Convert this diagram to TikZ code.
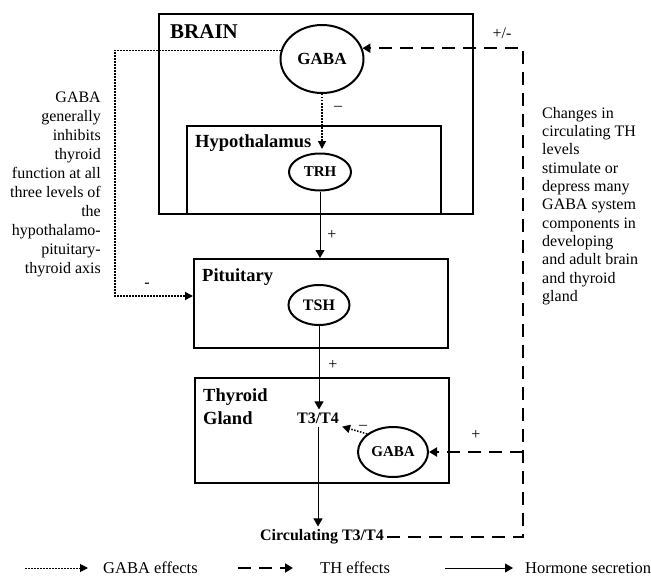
\documentclass[tikz,border=0pt]{standalone}
\usepackage{fontspec}
\setmainfont{Liberation Serif}
\usetikzlibrary{arrows.meta,shapes.geometric}

\begin{document}
\begin{tikzpicture}[x=1pt,y=-1pt,
  organ/.style={draw,line width=2.2pt,anchor=north west,inner sep=0pt},
  gland/.style={draw,ellipse,line width=2pt,inner sep=0pt,font=\bfseries\fontsize{15}{18}\selectfont},
  lbl/.style={font=\bfseries\fontsize{18.5}{23}\selectfont,inner sep=0pt},
  note/.style={font=\fontsize{16}{19}\selectfont,inner sep=0pt},
  sign/.style={font=\fontsize{16}{19}\selectfont,inner sep=0pt},
  gabafx/.style={line width=1.5pt,dash pattern=on 1.5pt off 1.5pt,-{Triangle[length=8pt,width=8pt]}},
  thfx/.style={line width=2.5pt,dash pattern=on 13pt off 8pt,-{Triangle[length=8pt,width=9pt]}},
  hormone/.style={line width=1pt,-{Triangle[length=8pt,width=9pt]}}]%
\useasboundingbox (0,0) rectangle (651,578);%
%
% boxes
\node[organ,minimum width=314pt,minimum height=200pt] (brain) at (158,13) {};%
\node[organ,minimum width=254pt,minimum height=88pt] (hypo) at (186,125) {};%
\node[organ,minimum width=254pt,minimum height=89pt] (pit) at (193,258) {};%
\node[organ,minimum width=254pt,minimum height=105pt] (thy) at (194,377) {};%
\node[lbl,font=\bfseries\fontsize{21}{25}\selectfont,anchor=west] (brainlbl) at (170,32) {BRAIN};%
\node[lbl,anchor=west] (hypolbl) at (195,143) {Hypothalamus};%
\node[lbl,anchor=west] (pitlbl) at (202,277) {Pituitary};%
\node[lbl,anchor=north west,align=left] (thylbl) at (203,388) {Thyroid\\Gland};%
%
% hormones and GABA
\node[gland,minimum width=83pt,minimum height=68pt,font=\bfseries\fontsize{17}{20}\selectfont] (gabab) at (322,59) {GABA};%
\node[gland,minimum width=62pt,minimum height=37pt] (trh) at (320,172) {TRH};%
\node[gland,minimum width=61pt,minimum height=40pt,font=\bfseries\fontsize{16}{19}\selectfont] (tsh) at (319,305) {TSH};%
\node[gland,minimum width=70pt,minimum height=50pt] (gabat) at (393,452) {GABA};%
\node[lbl,font=\bfseries\fontsize{16}{19}\selectfont,inner sep=3pt] (t3t4) at (318,418) {T3/T4};%
\node[lbl,font=\bfseries\fontsize{16}{19}\selectfont,inner sep=3pt] (circ) at (322,537) {Circulating T3/T4};%
%
% secretion
\draw[hormone] (trh.south) -- (trh.south |- pit.north);%
\node[sign] (plustrh) at (332,235) {+};%
\draw[hormone] (tsh.south) -- (tsh.south |- t3t4.north);%
\node[sign] (plustsh) at (333,365) {+};%
\draw[hormone] (t3t4.south) -- (t3t4.south |- circ.north);%
%
% GABA effects
\coordinate (hypotip) at (321,149);%
\draw[gabafx] (gabab.south) -- (gabab.south |- hypotip);%
\node[sign] (minushypo) at (338,108) {--};%
\coordinate (gabaturn) at (115,296);%
\draw[gabafx] (gabab.168) -| (gabaturn) -- (gabaturn -| pit.west);%
\node[sign] (minuspit) at (147,285) {-};%
\draw[gabafx] (gabat.145) -- (t3t4.south east);%
\node[sign] (minusthy) at (363,427) {--};%
%
% TH effects
\coordinate (thturn) at (523,537);%
\draw[thfx] (circ.east) -- (thturn) -- (thturn |- gabab.15) -- (gabab.15);%
\node[sign] (plusminus) at (502,33) {+/-};%
\draw[thfx] (thturn |- gabat.east) -- (gabat.east);%
\node[sign] (plusthy) at (476,435) {+};%
%
% notes
\node[note,align=right,anchor=east] (gabanote) at (101,184) {GABA\\generally\\inhibits\\thyroid\\function at all\\three levels of\\the\\hypothalamo-\\pituitary-\\thyroid axis};%
\node[note,font=\fontsize{16}{18.3}\selectfont,align=left,anchor=west] (thnote) at (542,206) {Changes in\\circulating TH\\levels\\stimulate or\\depress many\\GABA system\\components in\\developing\\and adult brain\\and thyroid\\gland};%
%
% legend
\def\legendy{568};%
\coordinate (lgabaa) at (25,\legendy);%
\coordinate (lgabab) at (88,\legendy);%
\draw[gabafx,line width=1pt] (lgabaa) -- (lgabab);%
\node[note,font=\fontsize{16.5}{19}\selectfont,anchor=west] (lgabatxt) at (103,\legendy) {GABA effects};%
\coordinate (ltha) at (238,\legendy);%
\coordinate (lthb) at (293,\legendy);%
\draw[thfx] (ltha) -- (lthb);%
\node[note,font=\fontsize{16.5}{19}\selectfont,anchor=west] (lthtxt) at (320,\legendy) {TH effects};%
\coordinate (lhora) at (445,\legendy);%
\coordinate (lhorb) at (513,\legendy);%
\draw[hormone] (lhora) -- (lhorb);%
\node[note,font=\fontsize{16.5}{19}\selectfont,anchor=west] (lhortxt) at (525,\legendy) {Hormone secretion};%
%
\end{tikzpicture}
\end{document}
